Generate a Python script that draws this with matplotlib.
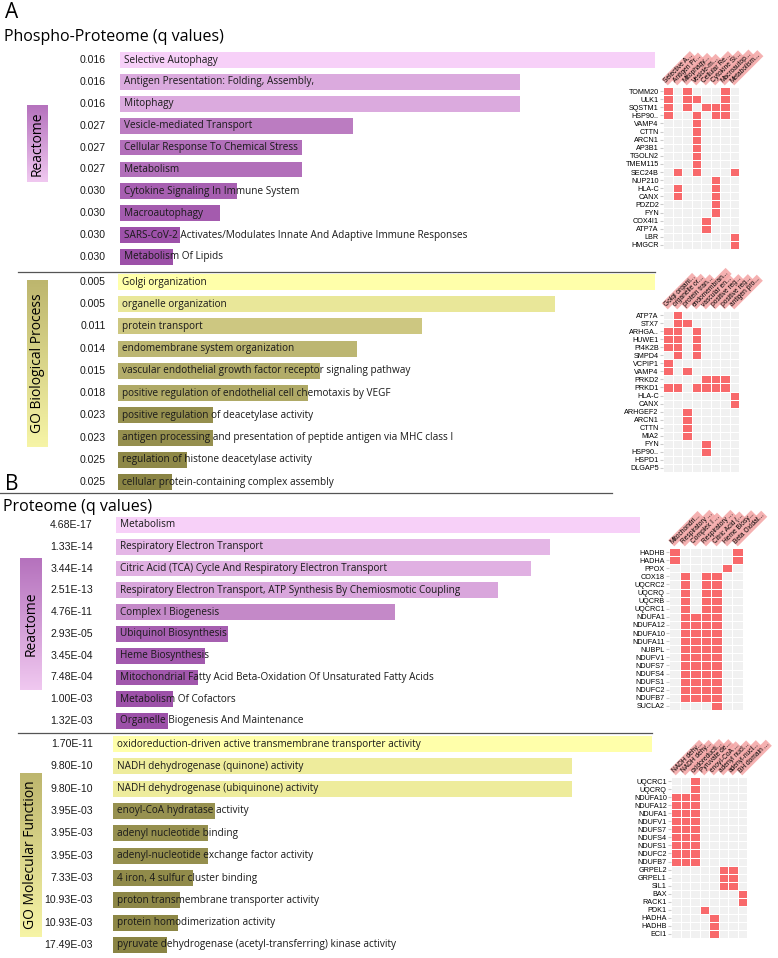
import numpy as np
import matplotlib
matplotlib.use("Agg")
import matplotlib.pyplot as plt
from matplotlib.colors import LinearSegmentedColormap, ListedColormap, Normalize
from matplotlib.transforms import offset_copy
from matplotlib.lines import Line2D

W, H = 778, 958
LABEL_FONT = ["Open Sans", "DejaVu Sans"]
NARROW_FONT = ["Liberation Sans Narrow", "Liberation Sans", "DejaVu Sans"]
HEAT_FONT = ["Liberation Sans", "DejaVu Sans"]

# ---- Panel A, Phospho-Proteome ----
phos_react_terms = [
    "Selective Autophagy",
    "Antigen Presentation: Folding, Assembly,",
    "Mitophagy",
    "Vesicle-mediated Transport",
    "Cellular Response To Chemical Stress",
    "Metabolism",
    "Cytokine Signaling In Immune System",
    "Macroautophagy",
    "SARS-CoV-2 Activates/Modulates Innate And Adaptive Immune Responses",
    "Metabolism Of Lipids",
]
phos_react_q = ["0.016", "0.016", "0.016", "0.027", "0.027", "0.027", "0.030", "0.030", "0.030", "0.030"]
phos_react_score = [535, 400, 400, 233, 182, 182, 117, 100, 60, 53]

phos_go_terms = [
    "Golgi organization",
    "organelle organization",
    "protein transport",
    "endomembrane system organization",
    "vascular endothelial growth factor receptor signaling pathway",
    "positive regulation of endothelial cell chemotaxis by VEGF",
    "positive regulation of deacetylase activity",
    "antigen processing and presentation of peptide antigen via MHC class I",
    "regulation of histone deacetylase activity",
    "cellular protein-containing complex assembly",
]
phos_go_q = ["0.005", "0.005", "0.011", "0.014", "0.015", "0.018", "0.023", "0.023", "0.025", "0.025"]
phos_go_score = [537, 437, 304, 239, 202, 190, 95, 95, 69, 54]

# ---- Panel B, Proteome ----
prot_react_terms = [
    "Metabolism",
    "Respiratory Electron Transport",
    "Citric Acid (TCA) Cycle And Respiratory Electron Transport",
    "Respiratory Electron Transport, ATP Synthesis By Chemiosmotic Coupling",
    "Complex I Biogenesis",
    "Ubiquinol Biosynthesis",
    "Heme Biosynthesis",
    "Mitochondrial Fatty Acid Beta-Oxidation Of Unsaturated Fatty Acids",
    "Metabolism Of Cofactors",
    "Organelle Biogenesis And Maintenance",
]
prot_react_q = ["4.68E-17", "1.33E-14", "3.44E-14", "2.51E-13", "4.76E-11",
                "2.93E-05", "3.45E-04", "7.48E-04", "1.00E-03", "1.32E-03"]
prot_react_score = [524, 434, 415, 382, 279, 112, 89, 82, 57, 52]

prot_go_terms = [
    "oxidoreduction-driven active transmembrane transporter activity",
    "NADH dehydrogenase (quinone) activity",
    "NADH dehydrogenase (ubiquinone) activity",
    "enoyl-CoA hydratase activity",
    "adenyl nucleotide binding",
    "adenyl-nucleotide exchange factor activity",
    "4 iron, 4 sulfur cluster binding",
    "proton transmembrane transporter activity",
    "protein homodimerization activity",
    "pyruvate dehydrogenase (acetyl-transferring) kinase activity",
]
prot_go_q = ["1.70E-11", "9.80E-10", "9.80E-10", "3.95E-03", "3.95E-03",
             "3.95E-03", "7.33E-03", "10.93E-03", "10.93E-03", "17.49E-03"]
prot_go_score = [539, 459, 459, 102, 95, 95, 80, 67, 65, 54]

# ---- gene x term heatmaps (column indices hit per gene) ----
h1_cols = ["Selective A...", "Antigen Pr...", "Mitophagy...", "Vesicle-m...",
           "Cellular Re...", "Cytokine Si...", "Macroautop...", "Metabolism..."]
h1_genes = ["TOMM20", "ULK1", "SQSTM1", "HSP90..", "VAMP4", "CTTN", "ARCN1", "AP3B1",
            "TGOLN2", "TMEM115", "SEC24B", "NUP210", "HLA-C", "CANX", "PDZD2", "FYN",
            "COX4I1", "ATP7A", "LBR", "HMGCR"]
h1_hits = [[0, 2, 6], [0, 2, 3, 6], [0, 2, 4, 5, 6], [0, 3, 5, 6], [3], [3], [3], [3],
           [3], [3], [1, 3, 7], [5], [1, 5], [1, 5], [5], [5],
           [4], [4], [7], [7]]

h2_cols = ["Golgi organi...", "organelle or...", "protein tran...", "endomembran...",
           "vascular en...", "positive reg...", "positive reg...", "antigen pro..."]
h2_genes = ["ATP7A", "STX7", "ARHGA..", "HUWE1", "PI4K2B", "SMPD4", "VCPIP1", "VAMP4",
            "PRKD2", "PRKD1", "HLA-C", "CANX", "ARHGEF2", "ARCN1", "CTTN", "MIA2",
            "FYN", "HSP90..", "HSPD1", "DLGAP5"]
h2_hits = [[1], [1, 2], [0, 1, 3], [0, 1, 3], [0, 1, 3], [1, 3], [0], [0, 2],
           [4, 5, 6], [0, 1, 3, 4, 5, 6], [7], [7], [2], [2], [2], [2],
           [4], [4], [], []]

h3_cols = ["Mitochondri...", "Respiratory ...", "Complex I ...", "Respiratory ...",
           "Citric Acid (...", "Heme Biosy...", "Beta Oxidat..."]
h3_genes = ["HADHB", "HADHA", "PPOX", "COX18", "UQCRC2", "UQCRQ", "UQCRB", "UQCRC1",
            "NDUFA1", "NDUFA12", "NDUFA10", "NDUFA11", "NUBPL", "NDUFV1", "NDUFS7",
            "NDUFS4", "NDUFS1", "NDUFC2", "NDUFB7", "SUCLA2"]
h3_hits = [[0, 6], [0, 6], [5], [1, 3, 4], [1, 3, 4], [1, 3, 4], [1, 3, 4], [1, 3, 4],
           [1, 2, 3, 4], [1, 2, 3, 4], [1, 2, 3, 4], [1, 2, 3, 4], [1, 2, 3, 4],
           [1, 2, 3, 4], [1, 2, 3, 4], [1, 2, 3, 4], [1, 2, 3, 4], [1, 2, 3, 4],
           [1, 2, 3, 4], [4]]

h4_cols = ["NADH dehy...", "NADH dehy...", "oxidoreducti...", "Pyruvate de...",
           "enoyl-CoA ...", "adenyl nucl...", "adenyl-nucl...", "BH domain ..."]
h4_genes = ["UQCRC1", "UQCRQ", "NDUFA10", "NDUFA12", "NDUFA1", "NDUFV1", "NDUFS7",
            "NDUFS4", "NDUFS1", "NDUFC2", "NDUFB7", "GRPEL2", "GRPEL1", "SIL1", "BAX",
            "RACK1", "PDK1", "HADHA", "HADHB", "ECI1"]
h4_hits = [[2], [2], [0, 1, 2], [0, 1, 2], [0, 1, 2], [0, 1, 2], [0, 1, 2],
           [0, 1, 2], [0, 1, 2], [0, 1, 2], [0, 1, 2], [5, 6], [5, 6], [5, 6], [7],
           [7], [3], [4], [4], [4]]

purple_cmap = LinearSegmentedColormap.from_list("purp", ["#9c50a8", "#c58bc9", "#f7d0f8"])
olive_cmap = LinearSegmentedColormap.from_list("oliv", ["#8a8444", "#cbc580", "#ffffaa"])


def px_axes(fig, x0, y0, x1, y1):
    # axes placed by pixel box (top-left origin)
    return fig.add_axes([x0 / W, 1 - y1 / H, (x1 - x0) / W, (y1 - y0) / H])


def draw_bars(fig, x0, x1, yc0, yc1, terms, qvals, scores, cmap, q_gap):
    n = len(terms)
    pitch = (yc1 - yc0) / (n - 1)
    ax = px_axes(fig, x0, yc0 - pitch / 2, x1, yc1 + pitch / 2)
    norm = Normalize(min(scores), max(scores))
    ypos = np.arange(n)
    ax.barh(ypos, scores, height=0.72, color=cmap(norm(np.array(scores))), edgecolor="none")
    ax.set_xlim(0, max(scores))
    ax.set_ylim(n - 0.5, -0.5)
    ax.axis("off")
    txt_tr = offset_copy(ax.get_yaxis_transform(), fig=fig, x=4, units="dots")
    q_tr = offset_copy(ax.get_yaxis_transform(), fig=fig, x=-q_gap, units="dots")
    for i in range(n):
        ax.text(0, i, terms[i], transform=txt_tr, ha="left", va="center",
                fontsize=7.2, family=LABEL_FONT, color="#1a1a1a", clip_on=False)
        ax.text(0, i, qvals[i], transform=q_tr, ha="right", va="center",
                fontsize=7.6, family=NARROW_FONT, color="#1a1a1a", clip_on=False)
    return ax


def draw_tag(fig, x0, y0, x1, y1, text, dark, light):
    ax = px_axes(fig, x0, y0, x1, y1)
    grad = np.linspace(0, 1, 100)[:, None]
    ax.imshow(grad, aspect="auto", cmap=LinearSegmentedColormap.from_list("g", [dark, light]))
    ax.text(0.5, 0.5, text, rotation=90, ha="center", va="center", fontsize=10,
            family=LABEL_FONT, transform=ax.transAxes)
    ax.axis("off")


def draw_heat(fig, x0, y0, x1, y1, genes, hits, cols):
    mat = np.zeros((len(genes), len(cols)))
    for i, h in enumerate(hits):
        mat[i, h] = 1
    ax = px_axes(fig, x0, y0, x1, y1)
    ax.pcolormesh(mat, cmap=ListedColormap(["#f1f1f1", "#f8696b"]), vmin=0, vmax=1,
                  edgecolors="white", linewidth=0.7)
    ax.set_xlim(0, len(cols))
    ax.set_ylim(len(genes), 0)
    ax.set_yticks(np.arange(len(genes)) + 0.5, genes)
    ax.set_xticks(np.arange(len(cols)) + 0.5, cols)
    ax.xaxis.tick_top()
    ax.tick_params(axis="y", length=2, color="#cccccc", labelsize=5.2, pad=1)
    ax.tick_params(axis="x", length=0, labelsize=4.8, pad=2)
    for t in ax.get_yticklabels():
        t.set_family(HEAT_FONT)
    for t in ax.get_xticklabels():
        t.set_family(HEAT_FONT)
        t.set_rotation(45)
        t.set_ha("left")
        t.set_va("bottom")
        t.set_rotation_mode("anchor")
        t.set_bbox(dict(facecolor="#f4a4a4", edgecolor="none", pad=0.6, alpha=0.85))
    for sp in ax.spines.values():
        sp.set_visible(False)


fig = plt.figure(figsize=(W / 100, H / 100), dpi=100)

fig.text(5 / W, 1 - 12 / H, "A", fontsize=15, va="center", family=LABEL_FONT)
fig.text(4 / W, 1 - 37 / H, "Phospho-Proteome (q values)", fontsize=11.5, va="center", family=LABEL_FONT)
fig.text(5 / W, 1 - 485 / H, "B", fontsize=15, va="center", family=LABEL_FONT)
fig.text(3 / W, 1 - 507 / H, "Proteome (q values)", fontsize=11.5, va="center", family=LABEL_FONT)

draw_bars(fig, 120, 655, 60, 257, phos_react_terms, phos_react_q, phos_react_score, purple_cmap, 14)
draw_bars(fig, 118, 655, 282, 482, phos_go_terms, phos_go_q, phos_go_score, olive_cmap, 12)
draw_bars(fig, 116, 640, 525, 721, prot_react_terms, prot_react_q, prot_react_score, purple_cmap, 23)
draw_bars(fig, 113, 652, 744, 945, prot_go_terms, prot_go_q, prot_go_score, olive_cmap, 20)

draw_tag(fig, 27, 105, 48, 182, "Reactome", "#b572bd", "#f0c8f0")
draw_tag(fig, 27, 280, 48, 447, "GO Biological Process", "#bdb66e", "#f6f4a6")
draw_tag(fig, 20, 558, 42, 690, "Reactome", "#b572bd", "#f0c8f0")
draw_tag(fig, 20, 773, 42, 937, "GO Molecular Function", "#bdb66e", "#f6f4a6")

for (xa, xb, yy) in [(18, 655, 272), (0, 612, 493), (18, 652, 733)]:
    fig.add_artist(Line2D([xa / W, xb / W], [1 - yy / H, 1 - yy / H], color="#555555", lw=0.9))

draw_heat(fig, 663, 87, 739, 249, h1_genes, h1_hits, h1_cols)
draw_heat(fig, 663, 311, 739, 472, h2_genes, h2_hits, h2_cols)
draw_heat(fig, 669, 548, 743, 710, h3_genes, h3_hits, h3_cols)
draw_heat(fig, 671, 777, 747, 938, h4_genes, h4_hits, h4_cols)

fig.savefig("out.png", dpi=100, facecolor="white")
